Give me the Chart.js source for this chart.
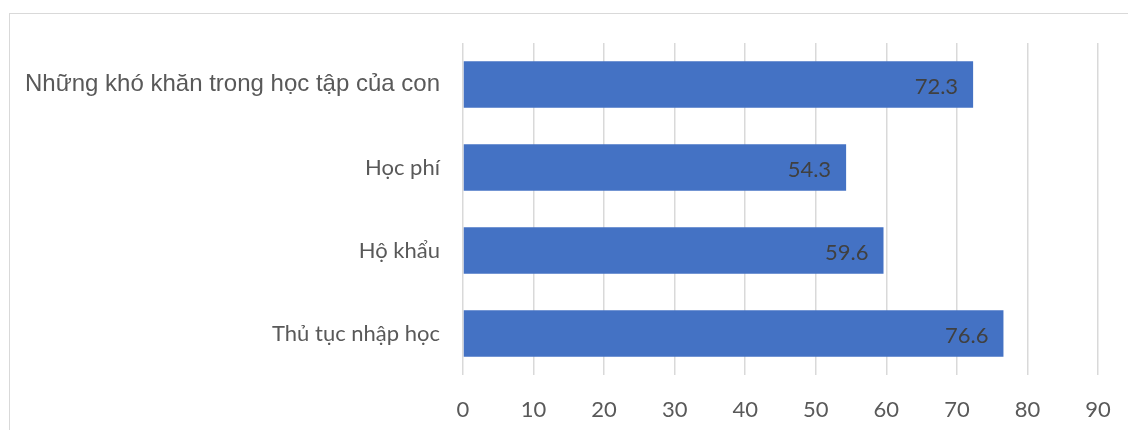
<!DOCTYPE html>
<html>
<head>
<meta charset="utf-8">
<script src="https://cdn.jsdelivr.net/npm/chart.js@4.4.0/dist/chart.umd.min.js"></script>
<style>
  html, body { margin: 0; padding: 0; background: #ffffff; }
  #wrap { position: relative; width: 1128px; height: 430px; overflow: hidden; }
  #frame { position: absolute; left: 9px; top: 13px; width: 1200px; height: 500px;
           border-left: 1px solid #d9d9d9; border-top: 1px solid #d9d9d9; box-sizing: border-box; }
  #c { position: absolute; left: 0; top: 0; }
</style>
</head>
<body>
<div id="wrap">
  <div id="frame"></div>
  <canvas id="c" width="1128" height="430"></canvas>
</div>
<script>
const categories = ["Những khó khăn trong học tập của con", "Học phí", "Hộ khẩu", "Thủ tục nhập học"];
const values = [72.3, 54.3, 59.6, 76.6];
const axisMin = 0;
const axisMax = 90;
const axisStep = 10;

const valueLabels = {
  id: 'valueLabels',
  afterDatasetsDraw(chart) {
    const ctx = chart.ctx;
    const meta = chart.getDatasetMeta(0);
    ctx.save();
    ctx.font = '22px Lato';
    ctx.fillStyle = '#404040';
    ctx.textAlign = 'right';
    ctx.textBaseline = 'middle';
    meta.data.forEach((el, i) => {
      const v = chart.data.datasets[0].data[i];
      ctx.fillText(v.toFixed(1), el.x - 15, el.y + 2);
    });
    ctx.restore();
  }
};

new Chart(document.getElementById('c'), {
  type: 'bar',
  data: {
    labels: categories,
    datasets: [{
      data: values,
      backgroundColor: '#4472C4',
      borderWidth: 0,
      barPercentage: 0.56,
      categoryPercentage: 1.0
    }]
  },
  options: {
    indexAxis: 'y',
    responsive: false,
    animation: false,
    layout: { padding: { top: 43, right: 30, bottom: 0, left: 0 } },
    plugins: { legend: { display: false }, tooltip: { enabled: false } },
    scales: {
      x: {
        min: axisMin, max: axisMax,
        ticks: { stepSize: axisStep, color: '#595959', font: { family: 'Lato', size: 22 }, padding: 22 },
        grid: { color: '#d9d9d9', lineWidth: 1.5, drawTicks: false },
        border: { display: false },
        afterFit(scale) { scale.height = 55; scale.paddingRight = 0; scale.paddingLeft = 0; }
      },
      y: {
        ticks: {
          color: '#595959',
          padding: 23,
          font: (ctx) => ctx.index === 0 ? { family: 'Liberation Sans', size: 24 } : { family: 'Lato', size: 22 }
        },
        grid: { display: false, drawTicks: false },
        border: { display: false },
        afterFit(scale) { scale.width = 463; }
      }
    }
  },
  plugins: [valueLabels]
});
</script>
</body>
</html>
